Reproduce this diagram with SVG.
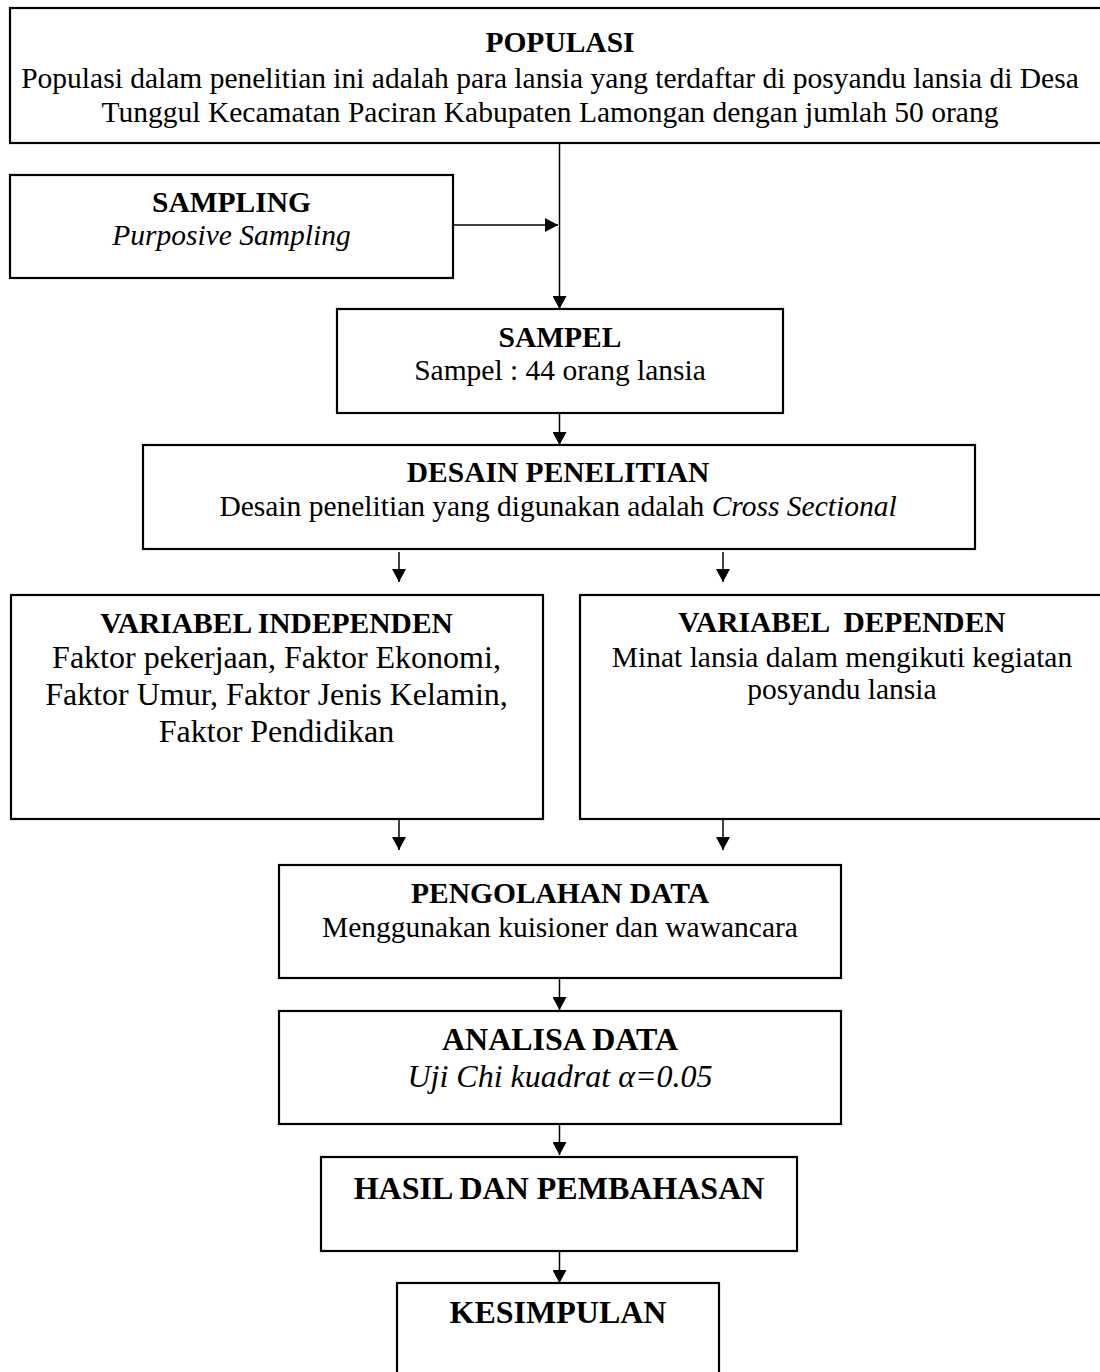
<svg xmlns="http://www.w3.org/2000/svg" width="1100" height="1372" viewBox="0 0 1100 1372">
<defs>
<marker id="ah" markerWidth="14" markerHeight="14" refX="13" refY="7" orient="auto" markerUnits="userSpaceOnUse">
<path d="M0,0 L13,7 L0,14 Z" fill="#000"/>
</marker>
<style>
.box{fill:#fff;stroke:#000;stroke-width:2.2}
.t{font-family:"Liberation Serif","Times New Roman",serif;font-size:29.5px;text-anchor:middle;fill:#000}
.L{font-size:32px}
.b{font-weight:bold}
.i{font-style:italic}
.c{stroke:#000;stroke-width:1.5;fill:none;marker-end:url(#ah)}
</style>
</defs>
<g id="connectors">
<line class="c" x1="559.5" y1="143" x2="559.5" y2="309"/>
<line class="c" x1="453" y1="225" x2="558" y2="225"/>
<line class="c" x1="559.5" y1="413" x2="559.5" y2="445"/>
<line class="c" x1="399" y1="552" x2="399" y2="582"/>
<line class="c" x1="723" y1="552" x2="723" y2="582"/>
<line class="c" x1="399" y1="819" x2="399" y2="850"/>
<line class="c" x1="723" y1="819" x2="723" y2="850"/>
<line class="c" x1="559.5" y1="978" x2="559.5" y2="1010"/>
<line class="c" x1="559.5" y1="1124" x2="559.5" y2="1155"/>
<line class="c" x1="559.5" y1="1251" x2="559.5" y2="1283"/>
</g>
<g id="populasi">
<rect class="box" x="10" y="8" width="1100" height="135"/>
<text class="t b" x="560" y="52">POPULASI</text>
<text class="t" x="550" y="88">Populasi dalam penelitian ini adalah para lansia yang terdaftar di posyandu lansia di Desa</text>
<text class="t" x="550" y="122">Tunggul Kecamatan Paciran Kabupaten Lamongan dengan jumlah 50 orang</text>
</g>
<g id="sampling">
<rect class="box" x="10" y="175" width="443" height="103"/>
<text class="t b" x="231.5" y="212">SAMPLING</text>
<text class="t i" x="231.5" y="245">Purposive Sampling</text>
</g>
<g id="sampel">
<rect class="box" x="337" y="309" width="446" height="104"/>
<text class="t b" x="560" y="347">SAMPEL</text>
<text class="t" x="560" y="380">Sampel : 44 orang lansia</text>
</g>
<g id="desain">
<rect class="box" x="143" y="445" width="832" height="104"/>
<text class="t b" x="558" y="482">DESAIN PENELITIAN</text>
<text class="t" x="558" y="516">Desain penelitian yang digunakan adalah <tspan class="i">Cross Sectional</tspan></text>
</g>
<g id="independen">
<rect class="box" x="11" y="595" width="532" height="224"/>
<text class="t b" x="276.5" y="633">VARIABEL INDEPENDEN</text>
<text class="t L" x="276.5" y="668">Faktor pekerjaan, Faktor Ekonomi,</text>
<text class="t L" x="276.5" y="705">Faktor Umur, Faktor Jenis Kelamin,</text>
<text class="t L" x="276.5" y="742">Faktor Pendidikan</text>
</g>
<g id="dependen">
<rect class="box" x="580" y="595" width="530" height="224"/>
<text class="t b" x="842" y="632" xml:space="preserve">VARIABEL  DEPENDEN</text>
<text class="t" x="842" y="667">Minat lansia dalam mengikuti kegiatan</text>
<text class="t" x="842" y="699">posyandu lansia</text>
</g>
<g id="pengolahan">
<rect class="box" x="279" y="865" width="562" height="113"/>
<text class="t b" x="560" y="903">PENGOLAHAN DATA</text>
<text class="t" x="560" y="937">Menggunakan kuisioner dan wawancara</text>
</g>
<g id="analisa">
<rect class="box" x="279" y="1011" width="562" height="113"/>
<text class="t b L" x="560" y="1050">ANALISA DATA</text>
<text class="t i L" x="560" y="1087">Uji Chi kuadrat α=0.05</text>
</g>
<g id="hasil">
<rect class="box" x="321" y="1157" width="476" height="94"/>
<text class="t b L" x="559" y="1199">HASIL DAN PEMBAHASAN</text>
</g>
<g id="kesimpulan">
<rect class="box" x="397" y="1283" width="322" height="110"/>
<text class="t b L" x="558" y="1323">KESIMPULAN</text>
</g>
</svg>
